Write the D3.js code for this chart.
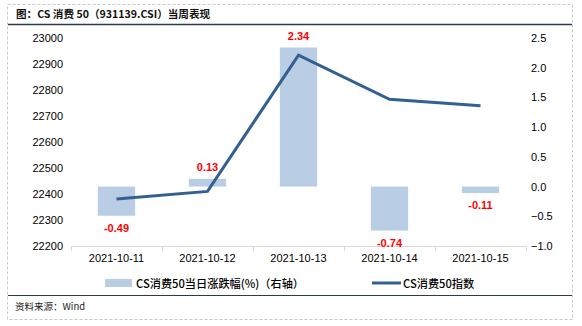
<!DOCTYPE html>
<html><head><meta charset="utf-8">
<script src="https://cdn.jsdelivr.net/npm/d3@7"></script>
<style>
body{margin:0;background:#fff;}
svg{display:block;font-family:"Liberation Sans",Arial,"Noto Sans CJK SC",sans-serif;}
</style></head><body>
<script>
const categories = ["2021-10-11","2021-10-12","2021-10-13","2021-10-14","2021-10-15"];
const pctChange = [-0.49, 0.13, 2.34, -0.74, -0.11];
const indexValues = [22381, 22410, 22934, 22764, 22739];
const leftTicks = [22200,22300,22400,22500,22600,22700,22800,22900,23000];
const rightTicks = [-1.0,-0.5,0.0,0.5,1.0,1.5,2.0,2.5];
const titleText = "图：CS 消费 50（931139.CSI）当周表现";
const sourceText = "资料来源：Wind";
const legendBar = "CS消费50当日涨跌幅(%)（右轴）";
const legendLine = "CS消费50指数";

const W=582,H=326;
const svg=d3.select("body").append("svg").attr("width",W).attr("height",H);
const cjk='"Noto Sans CJK SC","Liberation Sans",sans-serif';

// frame
svg.append("rect").attr("x",7.5).attr("y",4.5).attr("width",565).attr("height",315)
  .attr("fill","none").attr("stroke","#c8c8c8").attr("stroke-dasharray","3,2");
svg.append("line").attr("x1",8).attr("x2",572).attr("y1",24.5).attr("y2",24.5).attr("stroke","#2e3a4a").attr("stroke-width",1.5);
svg.append("line").attr("x1",8).attr("x2",572).attr("y1",295.5).attr("y2",295.5).attr("stroke","#2e3a4a").attr("stroke-width",1);
svg.append("text").attr("x",16).attr("y",17.5).attr("font-family",cjk).attr("font-weight","bold")
  .attr("font-size",10.6).attr("fill","#111").text(titleText);
svg.append("text").attr("x",15).attr("y",309.5).attr("font-family",cjk)
  .attr("font-size",9.5).attr("fill","#222").text(sourceText);

const x0=71,x1=526,yTop=38,yBot=246;
const x=d3.scaleBand().domain(categories).range([x0,x1]).paddingInner(0).paddingOuter(0);
const yL=d3.scaleLinear().domain([22200,23000]).range([yBot,yTop]);
const yR=d3.scaleLinear().domain([-1,2.5]).range([yBot,yTop]);

// bars
const bw=x.bandwidth()*0.41;
svg.append("g").selectAll("rect").data(categories).join("rect")
  .attr("x",d=>x(d)+x.bandwidth()/2-bw/2)
  .attr("width",bw)
  .attr("y",(d,i)=>yR(Math.max(0,pctChange[i])))
  .attr("height",(d,i)=>Math.abs(yR(pctChange[i])-yR(0)))
  .attr("fill","#b9cde5");

// x axis
const xAxis=d3.axisBottom(x).tickSize(0).tickPadding(8);
const gx=svg.append("g").attr("transform",`translate(0,${yBot})`).call(xAxis);
gx.select(".domain").attr("stroke","#d9d9d9");
gx.selectAll("text").attr("font-size",11).attr("fill","#000").attr("font-family","Liberation Sans,Arial,sans-serif");
const bounds=categories.map(c=>x(c)).concat([x1]);
svg.append("g").selectAll("line").data(bounds).join("line")
  .attr("x1",d=>d+0.5).attr("x2",d=>d+0.5).attr("y1",yBot).attr("y2",yBot+5).attr("stroke","#d9d9d9");

// left axis
const gl=svg.append("g").attr("transform",`translate(${x0-8},0)`)
  .call(d3.axisLeft(yL).tickValues(leftTicks).tickSize(0).tickPadding(0).tickFormat(d3.format("d")));
gl.select(".domain").remove();
gl.selectAll("text").attr("font-size",11).attr("fill","#000").attr("font-family","Liberation Sans,Arial,sans-serif");

// right axis
const gr=svg.append("g").attr("transform",`translate(${x1+5},0)`)
  .call(d3.axisRight(yR).tickValues(rightTicks).tickSize(0).tickPadding(0).tickFormat(d3.format(".1f")));
gr.select(".domain").remove();
gr.selectAll("text").attr("font-size",11).attr("fill","#000").attr("font-family","Liberation Sans,Arial,sans-serif");

// line
const line=d3.line().x((d,i)=>x(categories[i])+x.bandwidth()/2).y(d=>yL(d));
svg.append("path").datum(indexValues).attr("d",line).attr("fill","none")
  .attr("stroke","#34608f").attr("stroke-width",3).attr("stroke-linejoin","miter");

// data labels
svg.append("g").selectAll("text").data(categories).join("text")
  .attr("x",d=>x(d)+x.bandwidth()/2)
  .attr("y",(d,i)=>pctChange[i]>=0? yR(pctChange[i])-8 : yR(pctChange[i])+16)
  .attr("text-anchor","middle").attr("font-size",11).attr("font-weight","bold")
  .attr("fill","#ff0000").text((d,i)=>pctChange[i].toFixed(2));

// legend
svg.append("rect").attr("x",105).attr("y",279).attr("width",27).attr("height",8).attr("fill","#b9cde5");
svg.append("text").attr("x",136).attr("y",287.5).attr("font-family",cjk).attr("font-size",11.2).attr("font-weight",500).attr("fill","#000").text(legendBar);
svg.append("line").attr("x1",372).attr("x2",401).attr("y1",283).attr("y2",283).attr("stroke","#34608f").attr("stroke-width",3);
svg.append("text").attr("x",403).attr("y",287.5).attr("font-family",cjk).attr("font-size",11.2).attr("font-weight",500).attr("fill","#000").text(legendLine);
</script></body></html>
